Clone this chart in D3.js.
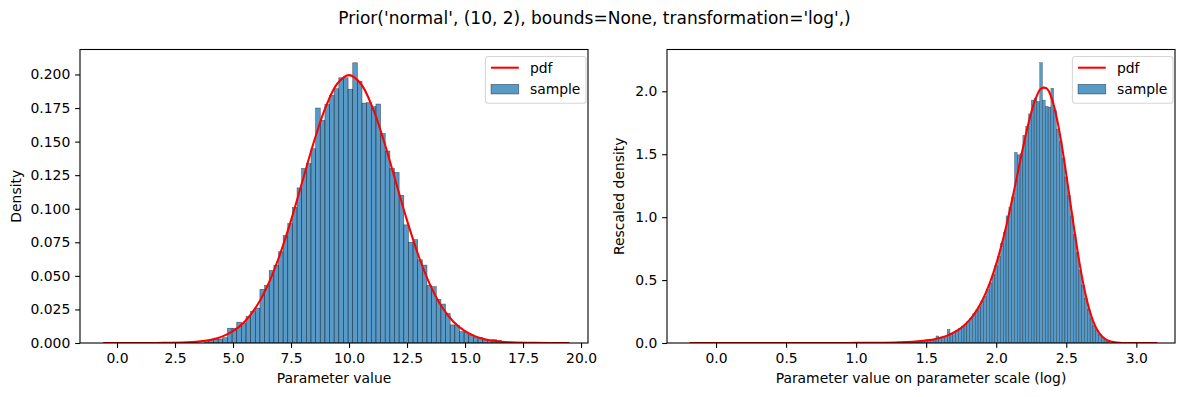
<!DOCTYPE html>
<html>
<head>
<meta charset="utf-8">
<script src="https://cdn.jsdelivr.net/npm/d3@7"></script>
<style>
  body { margin: 0; background: #fff; }
  text { font-family: "DejaVu Sans", sans-serif; }
</style>
</head>
<body>
<svg id="fig" width="1189" height="397"></svg>
<script>
// DATA
var title = "Prior('normal', (10, 2), bounds=None, transformation='log',)";

// left panel: histogram of samples (density) on the parameter value
var leftBinStart = 3.76, leftBinWidth = 0.2;
var leftDensity = [
  0.001, 0.002, 0.003, 0.003, 0.004, 0.011, 0.011, 0.0155, 0.0145, 0.0196,
  0.0235, 0.026, 0.040, 0.043, 0.054, 0.058, 0.068, 0.080, 0.089, 0.101,
  0.1155, 0.130, 0.1336, 0.1447, 0.175, 0.1658, 0.1777, 0.1844, 0.1894, 0.1975,
  0.1975, 0.189, 0.2087, 0.195, 0.1787, 0.179, 0.176, 0.178, 0.156, 0.143,
  0.130, 0.127, 0.110, 0.088, 0.075, 0.077, 0.062, 0.058, 0.043, 0.042,
  0.0325, 0.029, 0.022, 0.0135, 0.013, 0.0085, 0.008, 0.006, 0.0045, 0.004,
  0.0022, 0.002, 0.0025, 0.002
];
var leftPdfX = [-0.6, 1, 2, 3, 3.5, 4, 4.5, 5, 5.5, 6, 6.5, 7, 7.5, 8, 8.5, 9, 9.5, 10,
  10.5, 11, 11.5, 12, 12.5, 13, 13.5, 14, 14.5, 15, 15.5, 16, 16.5, 17, 18, 19.5];
var leftPdfY = [0, 0.00001, 0.00007, 0.00044, 0.00102, 0.00222, 0.00455, 0.00876, 0.01588,
  0.0270, 0.04315, 0.0648, 0.0913, 0.1210, 0.1506, 0.1760, 0.1933, 0.1995,
  0.1933, 0.1760, 0.1506, 0.1210, 0.0913, 0.0648, 0.04315, 0.0270, 0.01588,
  0.00876, 0.00455, 0.00222, 0.00102, 0.00044, 0.00007, 0];
var leftXTicks = [0, 2.5, 5, 7.5, 10, 12.5, 15, 17.5, 20];
var leftYTicks = [0, 0.025, 0.05, 0.075, 0.1, 0.125, 0.15, 0.175, 0.2];

// right panel: same samples on the log scale (rescaled density)
var rightBinStart = 1.35, rightBinWidth = 0.02;
var rightDensity = [
  0.005, 0.008, 0.007, 0.011, 0.012, 0.014, 0.018, 0.020, 0.022, 0.025,
  0.032, 0.056, 0.042, 0.045, 0.052, 0.109, 0.077, 0.083, 0.098, 0.115,
  0.135, 0.150, 0.170, 0.195, 0.232, 0.262, 0.288, 0.335, 0.372, 0.425,
  0.478, 0.545, 0.615, 0.690, 0.790, 0.880, 1.010, 1.080, 1.160, 1.515,
  1.495, 1.505, 1.650, 1.720, 1.820, 1.930, 1.945, 1.920, 2.228, 1.930,
  1.880, 1.875, 2.025, 1.850, 1.700, 1.600, 1.470, 1.320, 1.170, 1.010,
  0.860, 0.720, 0.580, 0.460, 0.355, 0.270, 0.200, 0.140, 0.098, 0.066,
  0.042, 0.026, 0.012
];
var rightPdfX = [-0.19, 0.8, 1.0, 1.2, 1.28, 1.32,
  1.36, 1.40, 1.44, 1.48, 1.52, 1.56, 1.60, 1.64, 1.68, 1.72, 1.76, 1.80,
  1.84, 1.88, 1.92, 1.96, 2.00, 2.04, 2.08, 2.12, 2.16, 2.20, 2.24, 2.28,
  2.32, 2.36, 2.40, 2.44, 2.48, 2.52, 2.56, 2.60, 2.64, 2.68, 2.72, 2.76, 2.80,
  2.86, 2.92, 3.0, 3.15];
var rightPdfY = [0, 0.0002, 0.0007, 0.0025, 0.0043, 0.0056,
  0.0074, 0.0098, 0.0130, 0.0172, 0.0229, 0.0306, 0.0409, 0.0547, 0.0731, 0.0974, 0.1295, 0.1717,
  0.2263, 0.2964, 0.3848, 0.4945, 0.6286, 0.7878, 0.9702, 1.1731, 1.3870, 1.5987, 1.7894, 1.9382,
  2.0220, 2.0224, 1.9292, 1.7448, 1.4873, 1.1858, 0.8786, 0.5992, 0.3734, 0.2101, 0.1058, 0.0470, 0.0182,
  0.0033, 0.0004, 0, 0];
var rightXTicks = [0, 0.5, 1, 1.5, 2, 2.5, 3];
var rightYTicks = [0, 0.5, 1, 1.5, 2];

// LAYOUT (matplotlib points -> px at 100 dpi)
var svg = d3.select("#fig"),
    fontSize = 13.9,
    tickLen = 4.86,
    axTop = 49.5,
    axBottom = 343;

var panels = [
  {left: 80, right: 588, xDomain: [-1.595, 20.3], yDomain: [0, 0.2186],
   binStart: leftBinStart, binWidth: leftBinWidth, density: leftDensity,
   pdfX: leftPdfX, pdfY: leftPdfY, xTicks: leftXTicks, yTicks: leftYTicks,
   xFmt: d3.format(".1f"), yFmt: d3.format(".3f"),
   xLabel: "Parameter value", yLabel: "Density", yLabelX: 21},
  {left: 667, right: 1175, xDomain: [-0.35, 3.276], yDomain: [0, 2.332],
   binStart: rightBinStart, binWidth: rightBinWidth, density: rightDensity,
   pdfX: rightPdfX, pdfY: rightPdfY, xTicks: rightXTicks, yTicks: rightYTicks,
   xFmt: d3.format(".1f"), yFmt: d3.format(".1f"),
   xLabel: "Parameter value on parameter scale (log)", yLabel: "Rescaled density", yLabelX: 624}
];

svg.append("text")
    .attr("x", 594.5)
    .attr("y", 24)
    .attr("text-anchor", "middle")
    .attr("font-size", 17)
    .text(title);

panels.forEach(function(p, i) {
  var x = d3.scaleLinear().domain(p.xDomain).range([p.left, p.right]),
      y = d3.scaleLinear().domain(p.yDomain).range([axBottom, axTop]);

  svg.append("clipPath")
      .attr("id", "clip" + i)
    .append("rect")
      .attr("x", p.left).attr("y", axTop)
      .attr("width", p.right - p.left).attr("height", axBottom - axTop);

  var g = svg.append("g").attr("clip-path", "url(#clip" + i + ")");

  // histogram bars
  g.selectAll("rect.bar")
    .data(p.density)
    .enter().append("rect")
      .attr("class", "bar")
      .attr("x", function(d, k) { return x(p.binStart + k * p.binWidth); })
      .attr("width", function(d, k) { return x(p.binStart + (k + 1) * p.binWidth) - x(p.binStart + k * p.binWidth); })
      .attr("y", function(d) { return y(d); })
      .attr("height", function(d) { return y(0) - y(d); })
      .attr("fill", "#1f77b4")
      .attr("fill-opacity", 0.75)
      .attr("stroke", "#000")
      .attr("stroke-opacity", 0.55)
      .attr("stroke-width", i === 0 ? 0.6 : 0.4);

  // pdf line
  var line = d3.line()
      .x(function(d) { return x(d[0]); })
      .y(function(d) { return y(d[1]); })
      .curve(d3.curveCatmullRom);

  g.append("path")
      .datum(d3.zip(p.pdfX, p.pdfY))
      .attr("fill", "none")
      .attr("stroke", "red")
      .attr("stroke-width", 2.08)
      .attr("d", line);

  // axes
  var xAxis = svg.append("g")
      .attr("transform", "translate(0," + axBottom + ")")
      .call(d3.axisBottom(x).tickValues(p.xTicks).tickFormat(p.xFmt).tickSize(tickLen).tickPadding(tickLen));
  var yAxis = svg.append("g")
      .attr("transform", "translate(" + p.left + ",0)")
      .call(d3.axisLeft(y).tickValues(p.yTicks).tickFormat(p.yFmt).tickSize(tickLen).tickPadding(tickLen));

  [xAxis, yAxis].forEach(function(a) {
    a.select(".domain").remove();
    a.selectAll("line").attr("stroke", "#000").attr("stroke-width", 1.1);
    a.selectAll("text").attr("font-size", fontSize).attr("fill", "#000")
      .style("font-family", "'DejaVu Sans', sans-serif");
  });

  // spines
  svg.append("rect")
      .attr("x", p.left).attr("y", axTop)
      .attr("width", p.right - p.left).attr("height", axBottom - axTop)
      .attr("fill", "none")
      .attr("stroke", "#000")
      .attr("stroke-width", 1.1);

  // axis labels
  svg.append("text")
      .attr("x", (p.left + p.right) / 2)
      .attr("y", 383)
      .attr("text-anchor", "middle")
      .attr("font-size", fontSize)
      .text(p.xLabel);

  svg.append("text")
      .attr("transform", "translate(" + p.yLabelX + "," + (axTop + axBottom) / 2 + ") rotate(-90)")
      .attr("text-anchor", "middle")
      .attr("font-size", fontSize)
      .text(p.yLabel);

  // legend
  var lw = 100.6, lh = 46.8,
      lx = p.right - 2 - lw, ly = 56.5;
  var leg = svg.append("g").attr("transform", "translate(" + lx + "," + ly + ")");
  leg.append("rect")
      .attr("width", lw).attr("height", lh)
      .attr("rx", 2.8)
      .attr("fill", "#fff").attr("fill-opacity", 0.8)
      .attr("stroke", "#d6d6d6").attr("stroke-width", 1.1);
  leg.append("line")
      .attr("x1", 5.6).attr("x2", 33.4)
      .attr("y1", 11.2).attr("y2", 11.2)
      .attr("stroke", "red").attr("stroke-width", 2.08);
  leg.append("rect")
      .attr("x", 5.6).attr("y", 27.8)
      .attr("width", 27.8).attr("height", 9.7)
      .attr("fill", "#1f77b4").attr("fill-opacity", 0.75)
      .attr("stroke", "#000").attr("stroke-opacity", 0.55).attr("stroke-width", 0.6);
  leg.append("text")
      .attr("x", 44.5).attr("y", 11.2).attr("dy", "0.35em")
      .attr("font-size", fontSize)
      .text("pdf");
  leg.append("text")
      .attr("x", 44.5).attr("y", 32.6).attr("dy", "0.35em")
      .attr("font-size", fontSize)
      .text("sample");
});
</script>
</body>
</html>
